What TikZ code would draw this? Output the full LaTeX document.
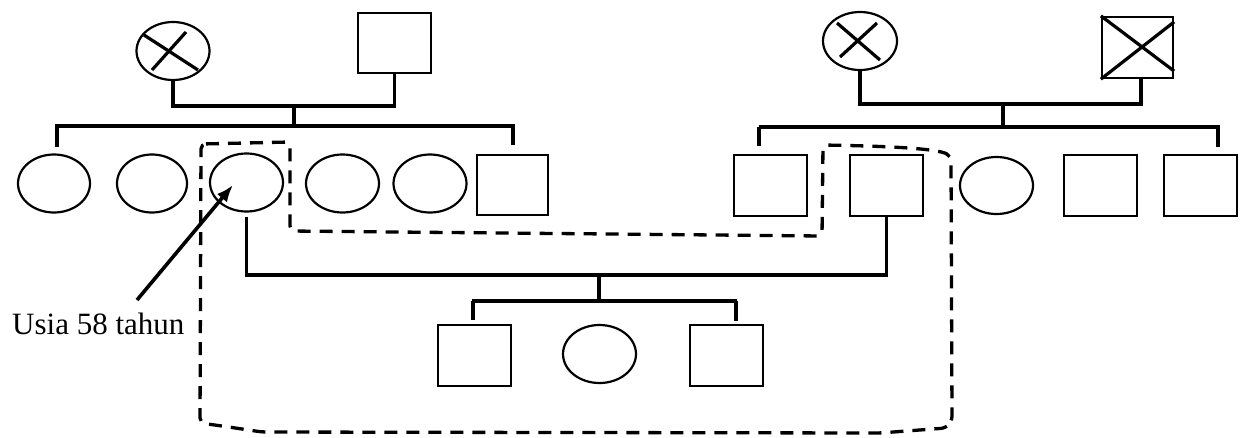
\documentclass[tikz,border=0pt]{standalone}
\usepackage{fontspec}
\setmainfont{Liberation Serif}
\usetikzlibrary{calc,arrows.meta,shapes.geometric}
\begin{document}
\begin{tikzpicture}[x=1pt,y=-1pt,
  person/.style={draw=black,line width=2.2pt,fill=white,inner sep=0pt},
  female/.style={person,ellipse,minimum width=73pt,minimum height=58pt},
  male/.style={person,rectangle,minimum width=73pt,minimum height=61pt},
  link/.style={line width=3.6pt},
  crossline/.style={line width=3.2pt},
  bound/.style={line width=3.3pt,dash pattern=on 13pt off 9pt,rounded corners=5pt},
  note/.style={font=\fontsize{31}{36}\selectfont,inner sep=0pt,anchor=base west},
]
\useasboundingbox (0,0) rectangle (1241,437);

% --- first generation, left couple
\node[female] (gmL) at (173,51) {};
\node[male, minimum height=60pt] (gpL) at (394.5,43) {};
\draw[crossline] ($(gmL)+(-29,-16)$) -- ($(gmL)+(25,19)$);
\draw[crossline] ($(gmL)+(-21,19)$) -- ($(gmL)+(13,-19)$);

% --- first generation, right couple
\node[female, minimum width=74pt] (gmR) at (860,41) {};
\node[male, minimum width=71pt] (gpR) at (1137.5,47.5) {};
\draw[crossline] ($(gmR)+(-23,-18)$) -- ($(gmR)+(20,19)$);
\draw[crossline] ($(gmR)+(-20,16)$) -- ($(gmR)+(17,-18)$);
\draw[crossline] (gpR.north west) -- ($(gpR.south east)+(0,-8)$);
\draw[crossline] (gpR.south west) -- ($(gpR.north east)+(0,6)$);

% --- second generation, left sibship
\node[female, minimum width=72pt] (c1) at (54,183.5) {};
\node[female, minimum width=70pt] (c2) at (152,183.5) {};
\node[female] (c3) at (246.5,182.5) {};
\node[female] (c4) at (342.5,183.5) {};
\node[female] (c5) at (430,183.5) {};
\node[male, minimum width=71pt, minimum height=60pt] (c6) at (512.5,185) {};

% --- second generation, right sibship
\node[male] (d1) at (770.5,185.5) {};
\node[male] (d2) at (886.5,185.5) {};
\node[female, minimum height=57pt] (d3) at (996.5,185.5) {};
\node[male] (d4) at (1100.5,185.5) {};
\node[male] (d5) at (1200.5,185.5) {};

% --- third generation
\node[male] (e1) at (474.5,355.5) {};
\node[female] (e2) at (599.5,354) {};
\node[male] (e3) at (726.5,355.5) {};

% --- junction points
\coordinate (mL) at (294,106);
\coordinate (sL) at (294,126);
\coordinate (mR) at (1003,104);
\coordinate (sR) at (1003,126);
\coordinate (mC) at (599,275);
\coordinate (sC) at (599,301);

% left couple and their children
\draw[link] (gmL.south) -- (gmL.south |- mL) -- (gpL.south |- mL) -- (gpL.south);
\draw[link] (mL) -- (sL);
\draw[link] ($(c1.north |- sL)+(1,0)$) -- ($(c6.north |- sL)+(2,0)$);
\draw[link] ($(c1.north |- sL)+(3,0)$) -- ($(c1.north)+(3,-6)$);
\draw[link] ($(c6.north |- sL)+(0.5,0)$) -- ($(c6.north)+(0.5,-9)$);

% right couple and their children
\draw[link] (gmR.south) -- (gmR.south |- mR) -- ($(gpR.south |- mR)+(3.5,0)$) -- ($(gpR.south)+(3.5,0)$);
\draw[link] (mR) -- (sR);
\draw[link] ($(d1.north |- sR)+(-12,1)$) -- ($(d5.north |- sR)+(19,1)$);
\draw[link] ($(d1.north |- sR)+(-11.5,1)$) -- ($(d1.north)+(-11.5,-8)$);
\draw[link] ($(d5.north |- sR)+(17.5,1)$) -- ($(d5.north)+(17.5,-7)$);

% marriage of c3 and d2, and their children
\draw[link] ($(c3.south)+(0,4)$) -- (c3.south |- mC) -- (d2.south |- mC) -- (d2.south);
\draw[link] (mC) -- (sC);
\draw[link] ($(e1.north |- sC)+(-2.5,0)$) -- ($(e3.north |- sC)+(10.5,0)$);
\draw[link] ($(e1.north |- sC)+(-1.5,0)$) -- ($(e1.north)+(-1.5,-4)$);
\draw[link] ($(e3.north |- sC)+(9.5,0)$) -- ($(e3.north)+(9.5,-3)$);

% household boundary
\draw[bound] (201,144) -- (290,142) -- (290,231) -- (822,236) -- (823,145)
  .. controls (880,146) and (935,148) .. (951,156) -- (952,421) -- (946,428)
  -- (880,433) -- (262,432) -- (222,426) -- (200,423) -- cycle;

% index person annotation
\node[note] (age) at (12,334) {Usia 58 tahun};
\coordinate (lead) at (137,300);
\coordinate (tip) at (233,185);
\draw[link,-{Latex[length=17pt,width=13pt]}] (lead) -- (tip);
\end{tikzpicture}
\end{document}
